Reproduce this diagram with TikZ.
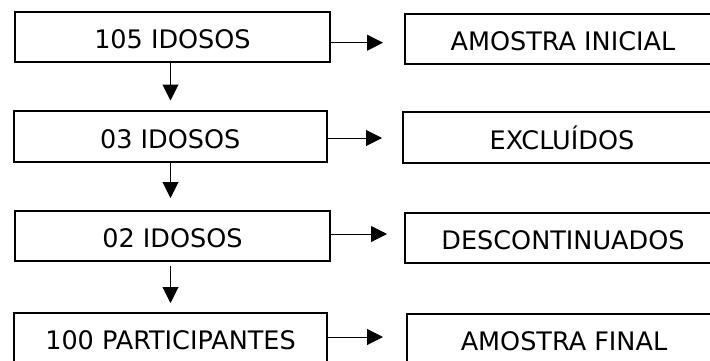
\documentclass[tikz,border=0pt]{standalone}
\usepackage{fontspec}
\setmainfont{DejaVu Sans}
\usetikzlibrary{arrows.meta,calc}
\begin{document}
\begin{tikzpicture}[x=1pt,y=-1pt,
 box/.style={draw,line width=2pt,minimum height=50pt,inner sep=0pt,
   font=\fontsize{25.5}{30}\selectfont,text height=23.6pt,text depth=0pt},
 arr/.style={line width=1pt,-{Triangle[length=16pt,width=16pt]}}]
\useasboundingbox (0,0) rectangle (710,360);
\clip (0,0) rectangle (710,360);
% left column
\node[box,minimum width=315pt] (b1) at (172.5,37) {105 IDOSOS};
\node[box,minimum width=313.5pt,minimum height=51pt] (b2) at (170.25,136.5) {03 IDOSOS};
\node[box,minimum width=315pt] (b3) at (172.5,236) {02 IDOSOS};
\node[box,minimum width=313pt] (b4) at (170.5,338) {100 PARTICIPANTES};
% right column
\node[box,minimum width=316pt] (a1) at (563,39) {AMOSTRA INICIAL};
\node[box,minimum width=318pt,minimum height=51pt] (a2) at (562,137.5) {EXCLUÍDOS};
\node[box,minimum width=316pt] (a3) at (563,238) {DESCONTINUADOS};
\node[box,minimum width=314pt] (a4) at (564,339) {AMOSTRA FINAL};
% horizontal arrow ends
\coordinate (e1) at (383,42.7);
\coordinate (e2) at (382,138);
\coordinate (e3) at (387,234);
\coordinate (e4) at (383,337);
\draw[arr] (b1.east |- e1) -- (e1);
\draw[arr] (b2.east |- e2) -- (e2);
\draw[arr] (b3.east |- e3) -- (e3);
\draw[arr] (b4.east |- e4) -- (e4);
% vertical arrow ends
\coordinate (d1) at (170.5,100.5);
\coordinate (d2) at (170.5,198);
\coordinate (d3) at (170.5,303);
\draw[arr] (d1 |- b1.south) -- (d1);
\draw[arr] (d2 |- b2.south) -- (d2);
\draw[arr,shorten <=4pt] (d3 |- b3.south) -- (d3);
\end{tikzpicture}
\end{document}
